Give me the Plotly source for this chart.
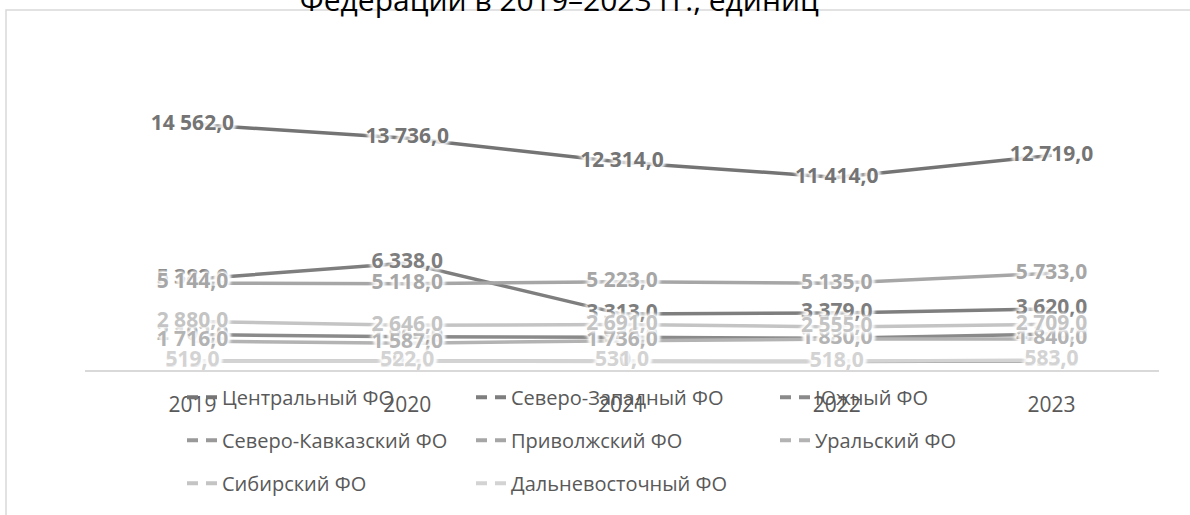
import plotly.graph_objects as go

years = ["2019", "2020", "2021", "2022", "2023"]

series_names = [
    "Центральный ФО", "Северо-Западный ФО", "Южный ФО", "Северо-Кавказский ФО",
    "Приволжский ФО", "Уральский ФО", "Сибирский ФО", "Дальневосточный ФО",
]

central = [14562, 13736, 12314, 11414, 12719]
northwest = [5382, 6338, 3313, 3379, 3620]
south = [2102, 1964, 1946, 1880, 2135]
ncaucasus = [515, 502, 530, 510, 533]
volga = [5144, 5118, 5223, 5135, 5733]
ural = [1716, 1587, 1736, 1830, 1840]
siberia = [2880, 2646, 2691, 2555, 2709]
fareast = [519, 522, 531, 518, 583]

values = [central, northwest, south, ncaucasus, volga, ural, siberia, fareast]

line_colors = ["#747474", "#7e7e7e", "#8a8a8a", "#999999",
               "#a6a6a6", "#b3b3b3", "#c4c4c4", "#d3d3d3"]
legend_cols = ["legend", "legend2", "legend3", "legend",
               "legend2", "legend3", "legend", "legend2"]

FONT = "Open Sans"
HALO = ("3px 0px 3px rgba(255,255,255,0.85), -3px 0px 3px rgba(255,255,255,0.85), "
        "0px 2px 3px rgba(255,255,255,0.85), 0px -2px 3px rgba(255,255,255,0.85), "
        "0px 0px 4px rgba(255,255,255,0.9)")

# plot-area geometry (pixels)
L, R, T, B = 85, 31, 100, 145
PW = 1190 - L - R
PH = 515 - T - B


def fmt(v):
    return f"{v:,}".replace(",", " ") + ",0"


def px_x(p):
    return (p - L) / PW


fig = go.Figure()

for name, vals, col in zip(series_names, values, line_colors):
    fig.add_trace(go.Scatter(
        x=years, y=vals, mode="lines", name=name, showlegend=False,
        line=dict(color=col, width=3.5), hoverinfo="skip",
    ))

# data labels
for name, vals, col in zip(series_names, values, line_colors):
    fig.add_trace(go.Scatter(
        x=years, y=vals, mode="text", showlegend=False, hoverinfo="skip",
        text=[fmt(v) for v in vals], textposition="middle center",
        textfont=dict(family=FONT, size=21, color=col, weight="bold",
                      shadow=HALO),
    ))

# legend-only entries (dashed symbol as in the reference legend)
for i, (name, col, lg) in enumerate(zip(series_names, line_colors, legend_cols)):
    fig.add_trace(go.Scatter(
        x=[None], y=[None], mode="lines", name=name, legend=lg,
        legendgroup=f"g{i}", showlegend=True,
        line=dict(color=col, width=4, dash="11px,8px"),
    ))

leg_common = dict(
    orientation="v", xanchor="left", yanchor="top", y=-0.029,
    font=dict(family=FONT, size=20, color="#595959"),
    bgcolor="rgba(0,0,0,0)", tracegroupgap=14, itemwidth=30,
)

fig.update_layout(
    width=1190, height=515,
    margin=dict(l=L, r=R, t=T, b=B, autoexpand=False),
    paper_bgcolor="white", plot_bgcolor="white",
    font=dict(family=FONT, color="#595959"),
    title=dict(
        text="Федерации в 2019–2023 гг., единиц",
        x=0.47, xanchor="center", xref="container",
        y=1.0, yanchor="middle", yref="container",
        font=dict(family=FONT, size=30, color="#000000"),
    ),
    xaxis=dict(
        type="category", categoryorder="array", categoryarray=years,
        range=[-0.5, 4.5], showgrid=False, zeroline=False,
        showline=True, linecolor="#d9d9d9", linewidth=1.5,
        ticks="", tickfont=dict(family=FONT, size=21, color="#595959"),
        ticklabelstandoff=15,
    ),
    yaxis=dict(range=[0, 16000], visible=False, showgrid=False, zeroline=False),
    legend=dict(x=px_x(182), **leg_common),
    legend2=dict(x=px_x(471), **leg_common),
    legend3=dict(x=px_x(775), **leg_common),
    shapes=[dict(
        type="rect", xref="paper", yref="paper",
        x0=px_x(6), x1=2.0, y0=-2.0, y1=(515 - B - 10) / PH,
        line=dict(color="#d9d9d9", width=1.5), fillcolor="rgba(0,0,0,0)",
        layer="below",
    )],
    showlegend=True,
)

fig.write_html("out.html")
